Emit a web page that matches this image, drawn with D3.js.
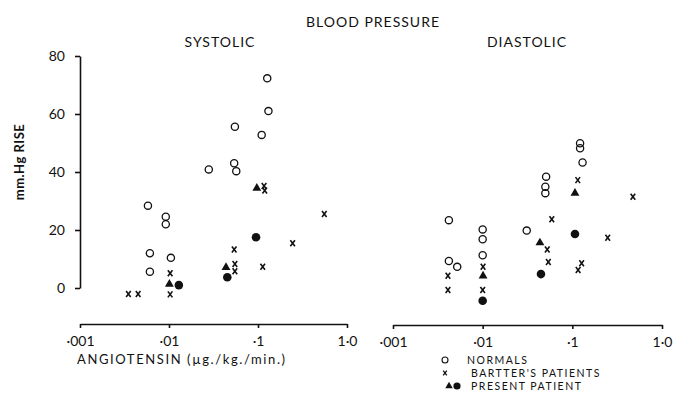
<!DOCTYPE html>
<html>
<head>
<meta charset="utf-8">
<script src="https://cdn.jsdelivr.net/npm/d3@7"></script>
<style>
  body { margin: 0; background: #fff; }
  #main { width: 674px; height: 401px; }
  text { font-family: Lato, "Open Sans", sans-serif; fill: #111; }
</style>
</head>
<body>
<div id="main"></div>
<script>
// values: [dose µg/kg/min, mm Hg rise]
const systolicNormals = [[0.127,72.3],[0.131,61.0],[0.055,55.6],[0.110,52.8],[0.028,40.9],[0.054,43.0],[0.057,40.3],
  [0.0058,28.4],[0.0092,24.6],[0.0092,22.0],[0.0061,12.0],[0.0105,10.4],[0.0061,5.6]];
const systolicBartter = [[0.117,35.2],[0.119,33.6],[0.556,25.5],[0.245,15.4],[0.054,13.3],[0.055,8.3],[0.055,5.8],
  [0.113,7.3],[0.0103,5.1],[0.0103,-2.2],[0.0035,-2.1],[0.0045,-2.1]];
const systolicPresentTri = [[0.097,34.4],[0.0437,7.1],[0.0101,1.3]];
const systolicPresentDot = [[0.095,17.5],[0.0452,3.7],[0.0129,1.0]];

const diastolicNormals = [[0.122,49.9],[0.122,48.2],[0.130,43.3],[0.051,38.4],[0.050,34.9],[0.050,32.7],[0.0042,23.4],
  [0.010,20.2],[0.010,16.8],[0.010,11.3],[0.031,19.8],[0.0042,9.3],[0.0052,7.3]];
const diastolicBartter = [[0.115,37.2],[0.474,31.5],[0.059,23.7],[0.248,17.3],[0.0525,13.3],[0.054,9.0],[0.0101,7.3],
  [0.0041,4.2],[0.127,8.5],[0.116,6.2],[0.0041,-0.7],[0.010,-0.7]];
const diastolicPresentTri = [[0.107,32.7],[0.0435,15.6],[0.0101,4.2]];
const diastolicPresentDot = [[0.107,18.6],[0.0447,4.8],[0.010,-4.4]];

const doseTicks = [0.001, 0.01, 0.1, 1];
const doseLabels = ["·001", "·01", "·1", "1·0"];
const riseTicks = [0, 20, 40, 60, 80];
const legendLabels = ["NORMALS", "BARTTER'S PATIENTS", "PRESENT PATIENT"];

function createChart() {
    const svg = d3.select("#main").append("svg")
        .attr("width", 674)
        .attr("height", 401);

    const y = d3.scaleLinear().domain([0, 80]).range([288, 56]);
    const xSys = d3.scaleLog().domain([0.001, 1]).range([80, 347]);
    const xDia = d3.scaleLog().domain([0.001, 1]).range([393, 662]);

    // titles
    svg.append("text").attr("x", 373).attr("y", 27).attr("text-anchor", "middle")
        .style("font-size", "14px").style("letter-spacing", "1px").text("BLOOD PRESSURE");
    svg.append("text").attr("x", 220).attr("y", 47).attr("text-anchor", "middle")
        .style("font-size", "14px").style("letter-spacing", "1px").text("SYSTOLIC");
    svg.append("text").attr("x", 527).attr("y", 47).attr("text-anchor", "middle")
        .style("font-size", "14px").style("letter-spacing", "1px").text("DIASTOLIC");

    // y axis
    const yAxis = svg.append("g").attr("transform", "translate(80,0)")
        .call(d3.axisLeft(y).tickValues(riseTicks).tickSizeInner(5).tickSizeOuter(0).tickPadding(10));
    yAxis.selectAll("text").style("font-size", "14px");
    svg.append("text").attr("transform", "translate(24,162) rotate(-90)")
        .attr("text-anchor", "middle").style("font-size", "13px").style("font-weight", "bold")
        .style("letter-spacing", "0.5px").text("mm.Hg RISE");

    // x axes
    [[xSys, 324], [xDia, 325]].forEach(([sc, yy]) => {
        const g = svg.append("g").attr("transform", `translate(0,${yy})`)
            .call(d3.axisBottom(sc).tickValues(doseTicks)
                .tickFormat((d, i) => doseLabels[i]).tickSizeInner(4).tickSizeOuter(0).tickPadding(8));
        g.selectAll("text").style("font-size", "14px");
    });
    svg.selectAll(".domain, .tick line").attr("stroke", "#111").attr("stroke-width", 1.6);

    svg.append("text").attr("x", 77).attr("y", 364)
        .style("font-size", "13px").style("letter-spacing", "1.6px").text("ANGIOTENSIN  (µg./kg./min.)");

    const xPath = "M-2.3,-3L2.3,3M2.3,-3L-2.3,3";
    const triangle = d3.symbol().type(d3.symbolTriangle).size(34);

    function drawPanel(x, normals, bartter, tri, dot) {
        const g = svg.append("g");
        g.selectAll(".n").data(normals).enter().append("circle")
            .attr("cx", d => x(d[0])).attr("cy", d => y(d[1])).attr("r", 3.6)
            .attr("fill", "none").attr("stroke", "#111").attr("stroke-width", 1.3);
        g.selectAll(".b").data(bartter).enter().append("path")
            .attr("transform", d => `translate(${x(d[0])},${y(d[1])})`)
            .attr("d", xPath).attr("stroke", "#111").attr("stroke-width", 1.6).attr("fill", "none");
        g.selectAll(".t").data(tri).enter().append("path")
            .attr("transform", d => `translate(${x(d[0])},${y(d[1])})`)
            .attr("d", triangle).attr("fill", "#111");
        g.selectAll(".d").data(dot).enter().append("circle")
            .attr("cx", d => x(d[0])).attr("cy", d => y(d[1])).attr("r", 4.3).attr("fill", "#111");
    }
    drawPanel(xSys, systolicNormals, systolicBartter, systolicPresentTri, systolicPresentDot);
    drawPanel(xDia, diastolicNormals, diastolicBartter, diastolicPresentTri, diastolicPresentDot);

    // legend
    const lg = svg.append("g");
    lg.append("circle").attr("cx", 445).attr("cy", 360).attr("r", 3).attr("fill", "none")
        .attr("stroke", "#111").attr("stroke-width", 1.1);
    lg.append("path").attr("transform", "translate(445,373)").attr("d", "M-1.8,-2.4L1.8,2.4M1.8,-2.4L-1.8,2.4")
        .attr("stroke", "#111").attr("stroke-width", 1.3);
    lg.append("path").attr("transform", "translate(449,386)").attr("d", d3.symbol().type(d3.symbolTriangle).size(24))
        .attr("fill", "#111");
    lg.append("circle").attr("cx", 457).attr("cy", 386).attr("r", 3.6).attr("fill", "#111");
    lg.selectAll(".lt").data(legendLabels).enter().append("text")
        .attr("x", (d, i) => i === 0 ? 467 : 471).attr("y", (d, i) => 364 + i * 13)
        .style("font-size", "10.5px").style("letter-spacing", "1.5px").text(d => d);
}

document.addEventListener("DOMContentLoaded", createChart);
</script>
</body>
</html>
